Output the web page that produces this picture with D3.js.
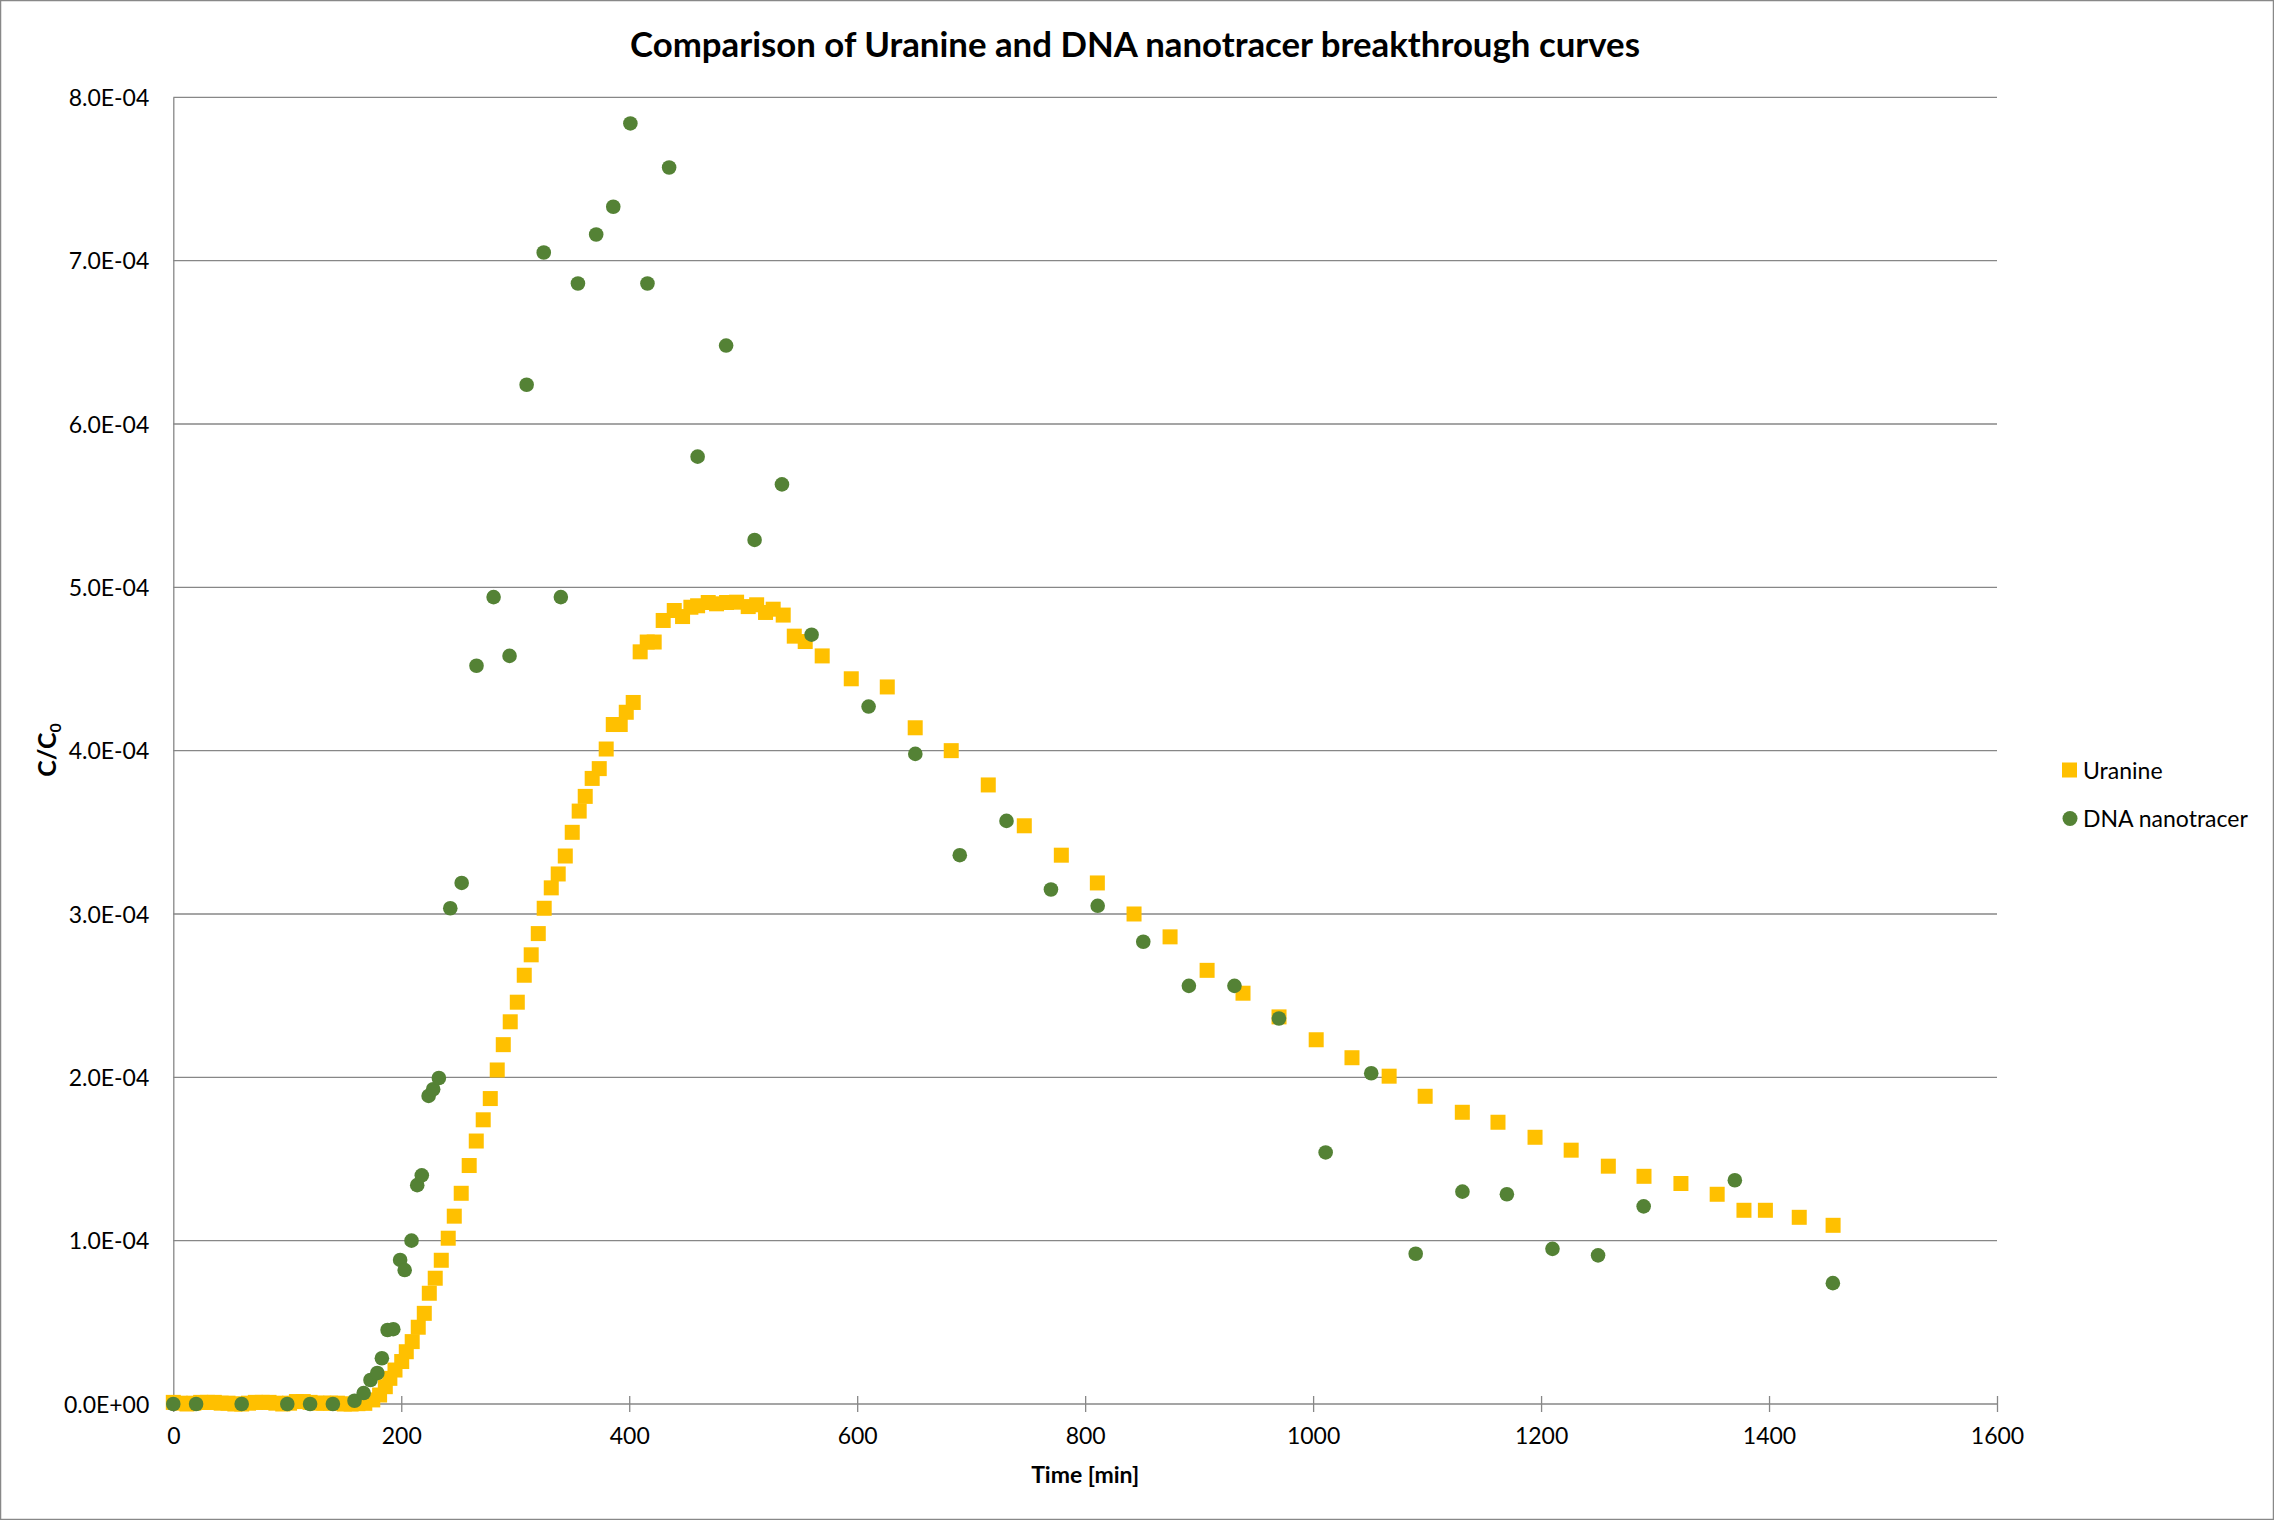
<!DOCTYPE html>
<html>
<head>
  <meta charset="utf-8" />
  <script src="https://d3js.org/d3.v7.min.js"></script>
  <style>
    body {
      margin: 0;
      background: #fff;
      font-family: Lato, "Open Sans", sans-serif;
    }
    .axis text {
      font-family: Lato, "Open Sans", sans-serif;
      font-size: 23px;
      fill: #000;
    }
  </style>
</head>
<body>
  <script>
    // values (concentrations as C/C0)
    var uranineTime = [0, 6, 12, 18, 24, 30, 36, 42, 48, 54, 60, 66, 72, 78, 84, 90, 96, 102, 108, 114, 120, 126, 132, 138, 144, 150, 156, 162,
      168, 175, 181, 186, 190, 194.5, 200.4, 204.4, 209.6, 214.9, 220.2, 224.6, 229.8, 235.1, 241.2, 246.5, 252.6, 259.6, 265.8, 271.9,
      278.1, 284.2, 289.5, 295.6, 301.8, 307.9, 314, 320.2, 325.4, 331.6, 337.7, 343.9, 350, 356.1, 361.4, 367.5, 373.7, 379.8, 386,
      392.1, 397.4, 403.5, 409.6, 415.8, 421.9, 429.8, 439.5, 446.8, 454.1, 460, 469.3, 476.6, 485.4, 494.2, 504.4, 511.8, 519.6, 526.3,
      535.1, 544.8, 554.4, 569.3, 594.8, 626.4, 650.9, 682.5, 715, 746.6, 779.1, 810.7, 842.9, 874.5, 907, 938.5, 970.1, 1002.7, 1034.1,
      1066.7, 1098.3, 1130.9, 1162.2, 1194.7, 1226.4, 1259, 1290.3, 1322.7, 1354.5, 1378, 1396.8, 1426.5, 1456.2];
    var uranineConc = [0.1e-5, 0.05e-5, 0, 0.05e-5, 0.1e-5, 0.1e-5, 0.1e-5, 0.05e-5, 0.05e-5, 0, 0, 0.05e-5, 0.1e-5, 0.1e-5, 0.1e-5, 0.05e-5,
      0, 0.05e-5, 0.15e-5, 0.15e-5, 0.1e-5, 0.05e-5, 0.05e-5, 0.05e-5, 0.05e-5, 0, 0, 0.02e-5,
      0.04e-5, 0.25e-5, 0.55e-5, 1.06e-5, 1.57e-5, 2.08e-5, 2.6e-5, 3.2e-5, 3.82e-5, 4.7e-5, 5.55e-5, 6.78e-5, 7.7e-5, 8.8e-5, 10.15e-5,
      11.5e-5, 12.9e-5, 14.6e-5, 16.1e-5, 17.4e-5, 18.7e-5, 20.45e-5, 22.0e-5, 23.4e-5, 24.6e-5, 26.25e-5, 27.5e-5, 28.8e-5, 30.35e-5,
      31.6e-5, 32.45e-5, 33.55e-5, 35.0e-5, 36.3e-5, 37.2e-5, 38.3e-5, 38.9e-5, 40.1e-5, 41.6e-5, 41.6e-5, 42.35e-5, 42.95e-5, 46.05e-5,
      46.65e-5, 46.65e-5, 47.97e-5, 48.58e-5, 48.21e-5, 48.78e-5, 48.87e-5, 49.07e-5, 48.99e-5, 49.07e-5, 49.09e-5, 48.82e-5, 48.93e-5,
      48.46e-5, 48.66e-5, 48.3e-5, 47.01e-5, 46.68e-5, 45.8e-5, 44.4e-5, 43.9e-5, 41.4e-5, 40.0e-5, 37.9e-5, 35.4e-5, 33.6e-5, 31.9e-5,
      30.0e-5, 28.6e-5, 26.55e-5, 25.15e-5, 23.7e-5, 22.3e-5, 21.2e-5, 20.07e-5, 18.84e-5, 17.86e-5, 17.25e-5, 16.33e-5, 15.54e-5,
      14.56e-5, 13.94e-5, 13.5e-5, 12.84e-5, 11.86e-5, 11.86e-5, 11.43e-5, 10.94e-5];

    var dnaTime = [0, 20, 60, 100, 120, 140, 159, 167, 173, 179, 183, 188, 193, 199, 203, 209, 214, 218, 224, 228, 233, 243, 253, 266,
      281, 295, 310, 325, 340, 355, 371, 386, 401, 416, 435, 460, 485, 510, 534, 560, 610, 651, 690, 731, 770, 811, 851, 891, 931, 970,
      1011, 1051, 1090, 1131, 1170, 1210, 1250, 1290, 1370, 1456];
    var dnaConc = [0, 0, 0, 0, 0, 0, 0.2e-5, 0.67e-5, 1.47e-5, 1.9e-5, 2.8e-5, 4.53e-5, 4.58e-5, 8.82e-5, 8.2e-5, 10.0e-5, 13.4e-5,
      14.0e-5, 18.86e-5, 19.27e-5, 19.96e-5, 30.35e-5, 31.9e-5, 45.2e-5, 49.4e-5, 45.8e-5, 62.4e-5, 70.5e-5, 49.4e-5, 68.6e-5, 71.6e-5,
      73.3e-5, 78.4e-5, 68.6e-5, 75.7e-5, 58.0e-5, 64.8e-5, 52.9e-5, 56.3e-5, 47.1e-5, 42.7e-5, 39.8e-5, 33.6e-5, 35.7e-5, 31.5e-5,
      30.5e-5, 28.3e-5, 25.6e-5, 25.6e-5, 23.6e-5, 15.4e-5, 20.25e-5, 9.2e-5, 13.0e-5, 12.84e-5, 9.5e-5, 9.1e-5, 12.1e-5, 13.7e-5, 7.4e-5];

    var xTicks = [0, 200, 400, 600, 800, 1000, 1200, 1400, 1600];
    var yTicks = [0, 1e-4, 2e-4, 3e-4, 4e-4, 5e-4, 6e-4, 7e-4, 8e-4];
    var seriesNames = ["Uranine", "DNA nanotracer"];
    var seriesColors = ["#FFC000", "#548235"];

    var W = 2274, H = 1520;
    var plot = { left: 173.3, right: 1997, top: 97.3, bottom: 1404 };

    var x = d3.scaleLinear().domain([0, 1600]).range([plot.left, plot.right]);
    var y = d3.scaleLinear().domain([0, 8e-4]).range([plot.bottom, plot.top]);

    // 4e-4 -> "4.0E-04", like the spreadsheet number format
    function sci(d) {
      var parts = d.toExponential(1).split("e");
      var e = parts[1];
      return parts[0] + "E" + e[0] + e.slice(1).padStart(2, "0");
    }

    var svg = d3.select("body")
      .append("svg")
      .attr("width", W)
      .attr("height", H);

    svg.append("rect")
      .attr("x", 0.5)
      .attr("y", 0.5)
      .attr("width", W - 1)
      .attr("height", H - 1)
      .attr("fill", "#fff")
      .attr("stroke", "#888")
      .attr("stroke-width", 1.5);

    // horizontal gridlines
    svg.append("g")
      .selectAll("line")
      .data(yTicks.slice(1))
      .enter()
      .append("line")
      .attr("x1", plot.left)
      .attr("x2", plot.right)
      .attr("y1", function(d) { return y(d); })
      .attr("y2", function(d) { return y(d); })
      .attr("stroke", "#878787")
      .attr("stroke-width", 1.3);

    var yAxis = d3.axisLeft(y)
      .tickValues(yTicks)
      .tickFormat(sci)
      .tickSize(0)
      .tickPadding(24);

    var gy = svg.append("g")
      .attr("class", "axis")
      .attr("transform", `translate(${plot.left} 0)`)
      .call(yAxis);
    gy.select(".domain").attr("stroke", "#878787").attr("stroke-width", 1.3);
    gy.selectAll("text").attr("dy", "0.36em");

    var xAxis = d3.axisBottom(x)
      .tickValues(xTicks)
      .tickFormat(d3.format("d"))
      .tickSize(8)
      .tickPadding(16);

    var gx = svg.append("g")
      .attr("class", "axis")
      .attr("transform", `translate(0 ${plot.bottom})`)
      .call(xAxis);
    gx.select(".domain").attr("d", `M${plot.left},0H${plot.right}`).attr("stroke", "#878787").attr("stroke-width", 1.3);
    gx.selectAll(".tick line").attr("y1", -8).attr("y2", 8).attr("stroke", "#878787").attr("stroke-width", 1.3);

    var uranine = uranineTime.map(function(t, i) { return { t: t, c: uranineConc[i] }; });
    var dna = dnaTime.map(function(t, i) { return { t: t, c: dnaConc[i] }; });

    // Uranine squares first, DNA circles drawn over them
    svg.append("g")
      .selectAll("rect")
      .data(uranine)
      .enter()
      .append("rect")
      .attr("x", function(d) { return x(d.t) - 7.5; })
      .attr("y", function(d) { return y(d.c) - 7.5; })
      .attr("width", 15)
      .attr("height", 15)
      .attr("fill", seriesColors[0]);

    svg.append("g")
      .selectAll("circle")
      .data(dna)
      .enter()
      .append("circle")
      .attr("cx", function(d) { return x(d.t); })
      .attr("cy", function(d) { return y(d.c); })
      .attr("r", 7.3)
      .attr("fill", seriesColors[1]);

    // title and axis titles
    svg.append("text")
      .attr("x", 1135)
      .attr("y", 57)
      .attr("text-anchor", "middle")
      .attr("textLength", 1010)
      .attr("lengthAdjust", "spacingAndGlyphs")
      .style("font-size", "34px")
      .style("font-weight", "bold")
      .text("Comparison of Uranine and DNA nanotracer breakthrough curves");

    svg.append("text")
      .attr("x", (plot.left + plot.right) / 2)
      .attr("y", 1483)
      .attr("text-anchor", "middle")
      .style("font-size", "23px")
      .style("font-weight", "bold")
      .text("Time [min]");

    var yTitle = svg.append("text")
      .attr("transform", "translate(56 750) rotate(-90)")
      .attr("text-anchor", "middle")
      .style("font-size", "25px")
      .style("font-weight", "bold");
    yTitle.append("tspan").text("C/C");
    yTitle.append("tspan").attr("dy", 5).style("font-size", "16px").text("0");

    // legend
    var legend = svg.append("g");
    legend.append("rect")
      .attr("x", 2062)
      .attr("y", 762.5)
      .attr("width", 15)
      .attr("height", 15)
      .attr("fill", seriesColors[0]);
    legend.append("circle")
      .attr("cx", 2070)
      .attr("cy", 818.5)
      .attr("r", 7.5)
      .attr("fill", seriesColors[1]);
    legend.selectAll("text")
      .data(seriesNames)
      .enter()
      .append("text")
      .attr("x", 2083)
      .attr("y", function(d, i) { return 779 + i * 48; })
      .style("font-size", "23px")
      .text(function(d) { return d; });
  </script>
</body>
</html>
